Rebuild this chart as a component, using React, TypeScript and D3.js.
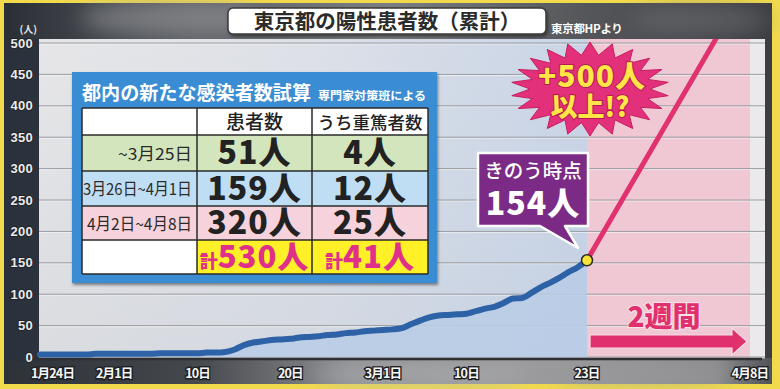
import React from "react";
import * as d3 from "d3";

// ---- data ----
const START_DATE = "2020-01-24";
// cumulative positive cases in Tokyo, one value per day from 1/24 to 3/23
const cumulativeCases = [
  4, 4, 4, 4, 4, 4, 5, 5,
  5, 5, 5, 5, 5, 6, 6, 6, 6, 6, 7, 7, 8, 12, 19, 23, 25, 27, 28, 29, 31, 32, 33, 35, 36, 38, 39, 41, 42,
  43, 44, 46, 52, 58, 63, 66, 67, 68, 69, 73, 77, 80, 86, 93, 94, 102, 111, 118, 126, 135, 143, 154,
];
const projectionDates = ["2020-03-23", "2020-04-08"];
const projectionValues = [154, 600];
const yTicks = [0, 50, 100, 150, 200, 250, 300, 350, 400, 450, 500];
const xTickDates = ["2020-01-24", "2020-02-01", "2020-02-10", "2020-02-20", "2020-03-01", "2020-03-10", "2020-03-23", "2020-04-08"];
const xTickLabels = ["1月24日", "2月1日", "10日", "20日", "3月1日", "10日", "23日", "4月8日"];
const tableHeaders = ["患者数", "うち重篤者数"];
const periods = ["~3月25日", "3月26日~4月1日", "4月2日~4月8日"];
const patients = [51, 159, 320];
const severe = [4, 12, 25];
const rowColors = ["#d2e5bd", "#c0def3", "#f6d2dc"];

const W = 780;
const H = 389;
const JP = "'Noto Sans CJK JP','Noto Sans JP','Noto Sans',sans-serif";

export default function App() {
  const parse = d3.timeParse("%Y-%m-%d");
  const start = parse(START_DATE) as Date;
  const series = cumulativeCases.map((v, i) => ({ date: d3.timeDay.offset(start, i), value: v }));
  const last = series[series.length - 1];
  const proj = projectionDates.map((d, i) => ({ date: parse(d) as Date, value: projectionValues[i] }));

  const panel = { left: 39, right: 765, top: 39, bottom: 358 };
  const x = d3.scaleTime().domain([start, last.date, proj[1].date]).range([40, 587, 750]);
  const y = d3.scaleLinear().domain([0, 500]).range([357, 43]);

  const line = d3
    .line<{ date: Date; value: number }>()
    .x((d) => x(d.date))
    .y((d) => y(d.value))
    .curve(d3.curveMonotoneX);
  const area = d3
    .area<{ date: Date; value: number }>()
    .x((d) => x(d.date))
    .y0(y(0))
    .y1((d) => y(d.value))
    .curve(d3.curveMonotoneX);

  const xNow = x(last.date);
  const xEnd = x(proj[1].date);

  // table layout
  const cols = [82, 197, 312, 428];
  const rows = [108, 135, 171, 206, 240, 274];
  const labelWidths = [74, 109, 105];
  const totalPatients = d3.sum(patients);
  const totalSevere = d3.sum(severe);

  // starburst
  const cx = 590, cy = 89;
  const spikes = 22;
  const burst = d3.range(spikes * 2).map((i) => {
    const a = (i * Math.PI) / spikes - Math.PI / 2;
    const outer = i % 2 === 0;
    const rx = outer ? 79 : 60;
    const ry = outer ? 47 : 34;
    return [cx + rx * Math.cos(a), cy + ry * Math.sin(a)];
  });

  return (
    <svg
      width={W}
      height={H}
      viewBox={`0 0 ${W} ${H}`}
      style={{ position: "absolute", left: 0, top: 0, display: "block" }}
      fontFamily={JP}
    >
      <defs>
        <linearGradient id="bg" x1="0" x2="1" y1="0" y2="0">
          <stop offset="0" stopColor="#2a2e35" />
          <stop offset="0.25" stopColor="#5d6065" />
          <stop offset="0.5" stopColor="#7c7d80" />
          <stop offset="0.75" stopColor="#55575b" />
          <stop offset="1" stopColor="#3b3d42" />
        </linearGradient>
        <linearGradient id="bottomG" x1="0" x2="1" y1="0" y2="0">
          <stop offset="0" stopColor="#2d3239" />
          <stop offset="0.25" stopColor="#45484d" />
          <stop offset="0.45" stopColor="#8c8d90" />
          <stop offset="0.7" stopColor="#9a9a9c" />
          <stop offset="0.93" stopColor="#8b8b8d" />
          <stop offset="1" stopColor="#505256" />
        </linearGradient>
        <linearGradient id="past" x1="0" x2="1" y1="0" y2="0">
          <stop offset="0" stopColor="#b9cbe6" stopOpacity="0" />
          <stop offset="0.5" stopColor="#b9cbe6" stopOpacity="0.2" />
          <stop offset="1" stopColor="#b9cbe6" stopOpacity="0.65" />
        </linearGradient>
        <linearGradient id="panelG" x1="0" x2="0" y1="0" y2="1">
          <stop offset="0" stopColor="#e6e6e8" />
          <stop offset="1" stopColor="#dadce0" />
        </linearGradient>
        <filter id="blur" x="-50%" y="-50%" width="200%" height="200%">
          <feGaussianBlur stdDeviation="10" />
        </filter>
        <filter id="shadow" x="-10%" y="-10%" width="120%" height="130%">
          <feDropShadow dx="1" dy="2" stdDeviation="1.5" floodColor="#000" floodOpacity="0.45" />
        </filter>
        <clipPath id="plotClip">
          <rect x={panel.left} y={panel.top} width={panel.right - panel.left} height={panel.bottom - panel.top} />
        </clipPath>
      </defs>

      {/* frame and background */}
      <rect x={0} y={0} width={W} height={H} fill="#f1da4c" />
      <rect x={4} y={3} width={768} height={381} fill="url(#bg)" />
      <rect x={4} y={panel.bottom} width={768} height={384 - panel.bottom} fill="url(#bottomG)" />
      <g filter="url(#blur)" opacity={0.55}>
        <ellipse cx={170} cy={18} rx={90} ry={16} fill="#9a9b9e" />
        <ellipse cx={420} cy={374} rx={110} ry={12} fill="#b4b5b8" />
        <ellipse cx={640} cy={374} rx={90} ry={10} fill="#9d9ea1" />
        <ellipse cx={700} cy={20} rx={70} ry={14} fill="#6f7174" />
      </g>
      <rect x={4} y={panel.top} width={panel.left - 4} height={panel.bottom - panel.top + 4} fill="#2b323d" opacity={0.9} />

      {/* plot panel */}
      <rect x={panel.left} y={panel.top} width={panel.right - panel.left} height={panel.bottom - panel.top} fill="url(#panelG)" />
      <rect x={panel.left} y={panel.top} width={xNow - panel.left} height={panel.bottom - panel.top} fill="url(#past)" />
      <rect x={xNow} y={panel.top} width={xEnd - xNow} height={panel.bottom - panel.top} fill="#f0c8d4" />
      <rect x={xEnd} y={panel.top} width={panel.right - xEnd} height={panel.bottom - panel.top} fill="#ebe9eb" />

      {yTicks.map((t) => (
        <g key={t}>
          <line x1={panel.left} x2={panel.right} y1={y(t) + 1} y2={y(t) + 1} stroke="#f6f6f6" strokeWidth={1} opacity={0.7} />
          <line x1={panel.left} x2={panel.right} y1={y(t)} y2={y(t)} stroke="#9a9ca1" strokeWidth={1} />
        </g>
      ))}

      <path d={area(series) || ""} fill="#b8cce6" opacity={0.85} />
      <line x1={panel.left} x2={panel.right - 3} y1={panel.bottom + 1} y2={panel.bottom + 1} stroke="#2e2f33" strokeWidth={2.5} />

      <path d={line(series) || ""} fill="none" stroke="#2d62a6" strokeWidth={6} strokeLinecap="round" strokeLinejoin="round" />
      <g clipPath="url(#plotClip)">
        <path d={line(proj) || ""} fill="none" stroke="#e1326f" strokeWidth={5} />
      </g>
      <circle cx={x(last.date)} cy={y(last.value)} r={5.5} fill="#f7e437" stroke="#2a2a2a" strokeWidth={1.5} />

      {/* y axis */}
      <text x={37} y={33} fontSize={10} fill="#e4e4e4" textAnchor="end" fontWeight={700}>(人)</text>
      {yTicks.map((t) => (
        <text
          key={t}
          x={33}
          y={y(t)}
          dy="0.36em"
          textAnchor="end"
          fontSize={13}
          fontWeight={700}
          fill="#ececec"
          stroke="#1d1f23"
          strokeWidth={1.5}
          paintOrder="stroke"
          letterSpacing={0.3}
          fontFamily="'Liberation Sans',Arial,sans-serif"
        >
          {t}
        </text>
      ))}

      {/* x axis labels */}
      {xTickDates.map((d, i) => {
        const xv = x(parse(d) as Date);
        return (
          <text
            key={d + i}
            x={i === 0 ? xv - 9 : xv}
            y={378}
            textAnchor={i === 0 ? "start" : "middle"}
            fontSize={12.5}
            fontWeight={700}
            fill="#f6f6f6"
            stroke="#1e1f22"
            strokeWidth={2.8}
            paintOrder="stroke"
            letterSpacing={-0.8}
          >
            {xTickLabels[i]}
          </text>
        );
      })}

      {/* title */}
      <rect x={228} y={8} width={318} height={26} rx={5} fill="#ffffff" stroke="#3a3a3a" strokeWidth={1.5} filter="url(#shadow)" />
      <text x={387} y={29} textAnchor="middle" fontSize={20.5} fontWeight={700} fill="#2b2b2b">
        東京都の陽性患者数（累計）
      </text>
      <text x={551} y={33} fontSize={11.5} fontWeight={700} fill="#ffffff" letterSpacing={-0.3}>
        東京都HPより
      </text>

      {/* estimate table */}
      <rect x={72} y={72} width={365} height={211} fill="#3a8dd3" filter="url(#shadow)" />
      <text x={82} y={100} fontSize={19.5} fontWeight={700} fill="#ffffff" textLength={229} lengthAdjust="spacingAndGlyphs">
        都内の新たな感染者数試算
      </text>
      <text x={318} y={100} fontSize={11.8} fontWeight={700} fill="#ffffff" textLength={108} lengthAdjust="spacingAndGlyphs">
        専門家対策班による
      </text>
      {/* header row */}
      <rect x={cols[0]} y={rows[0]} width={cols[3] - cols[0]} height={rows[1] - rows[0]} fill="#ffffff" />
      {tableHeaders.map((h, j) => (
        <text
          key={h}
          x={(cols[j + 1] + cols[j + 2]) / 2}
          y={rows[1] - 6}
          textAnchor="middle"
          fontSize={j === 0 ? 19 : 17.5}
          fontWeight={500}
          fill="#222"
        >
          {h}
        </text>
      ))}
      {periods.map((p, i) => (
        <g key={p}>
          <rect x={cols[0]} y={rows[i + 1]} width={cols[3] - cols[0]} height={rows[i + 2] - rows[i + 1]} fill={rowColors[i]} />
          <text
            x={cols[1] - 5 - labelWidths[i]}
            y={(rows[i + 1] + rows[i + 2]) / 2 + 6.5}
            fontSize={16.5}
            fill="#2a2a2a"
            textLength={labelWidths[i]}
            lengthAdjust="spacingAndGlyphs"
          >
            {p}
          </text>
          <text
            x={(cols[1] + cols[2]) / 2}
            y={(rows[i + 1] + rows[i + 2]) / 2 + 11}
            textAnchor="middle"
            fontSize={32}
            fontWeight={900}
            fill="#222"
            letterSpacing={1}
          >
            {patients[i]}人
          </text>
          <text
            x={(cols[2] + cols[3]) / 2}
            y={(rows[i + 1] + rows[i + 2]) / 2 + 11}
            textAnchor="middle"
            fontSize={32}
            fontWeight={900}
            fill="#222"
            letterSpacing={1}
          >
            {severe[i]}人
          </text>
        </g>
      ))}
      <rect x={cols[0]} y={rows[4]} width={cols[1] - cols[0]} height={rows[5] - rows[4]} fill="#ffffff" />
      <rect x={cols[1]} y={rows[4]} width={cols[3] - cols[1]} height={rows[5] - rows[4]} fill="#fff028" />
      {[totalPatients, totalSevere].map((v, j) => (
        <text
          key={j}
          x={(cols[j + 1] + cols[j + 2]) / 2}
          y={rows[5] - 6}
          textAnchor="middle"
          fontWeight={900}
          fill="#e0308a"
        >
          <tspan fontSize={18}>計</tspan>
          <tspan fontSize={31} letterSpacing={1}>{v}人</tspan>
        </text>
      ))}
      {/* table grid lines */}
      {rows.map((r) => (
        <line key={"r" + r} x1={cols[0]} x2={cols[3]} y1={r} y2={r} stroke="#2a2a2a" strokeWidth={1.5} />
      ))}
      {cols.map((c) => (
        <line key={"c" + c} x1={c} x2={c} y1={rows[0]} y2={rows[5]} stroke="#2a2a2a" strokeWidth={1.5} />
      ))}

      {/* callout */}
      <path
        d="M478,153 H588 V226 H565 L578,248 L540,226 H478 Z"
        fill="#7b2b85"
        stroke="#ffffff"
        strokeWidth={2.5}
        strokeLinejoin="round"
      />
      <text x={533} y={178} textAnchor="middle" fontSize={19.5} fontWeight={500} fill="#ffffff">
        きのう時点
      </text>
      <text x={533} y={215} textAnchor="middle" fontSize={32} fontWeight={900} fill="#ffffff" letterSpacing={1}>
        {last.value}人
      </text>

      {/* starburst */}
      <polygon points={burst.map((p) => p.join(",")).join(" ")} fill="#e2307a" stroke="#c8205f" strokeWidth={1} />
      <text
        x={cx + 2}
        y={87}
        textAnchor="middle"
        fontSize={30}
        fontWeight={900}
        fill="#ffe545"
        stroke="#b81a55"
        strokeWidth={2}
        paintOrder="stroke"
        letterSpacing={1}
      >
        +500人
      </text>
      <text
        x={cx}
        y={117}
        textAnchor="middle"
        fontSize={27}
        fontWeight={900}
        fill="#ffe545"
        stroke="#b81a55"
        strokeWidth={2}
        paintOrder="stroke"
      >
        以上!?
      </text>

      {/* 2 weeks arrow */}
      <text
        x={664}
        y={327}
        textAnchor="middle"
        fontSize={28}
        fontWeight={900}
        fill="#e0306e"
        stroke="#f7e3ea"
        strokeWidth={2}
        paintOrder="stroke"
      >
        2週間
      </text>
      <path
        d={`M${xNow + 3},335 H732 V328 L747,341.5 L732,355 V348 H${xNow + 3} Z`}
        fill="#e0306e"
        stroke="#f7dce6"
        strokeWidth={1.2}
      />
    </svg>
  );
}
